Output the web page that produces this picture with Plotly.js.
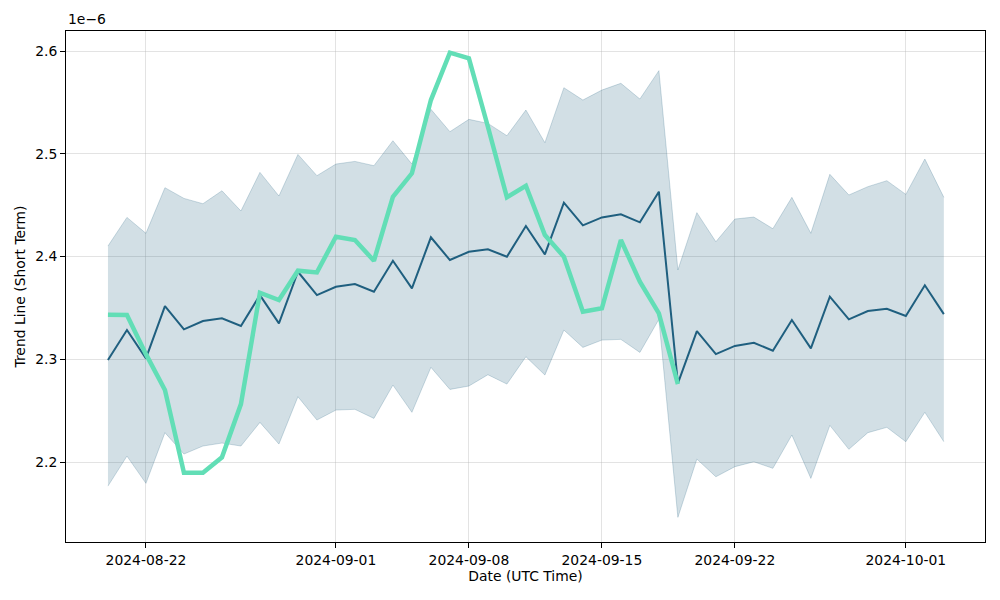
<!DOCTYPE html>
<html>
<head>
<meta charset="utf-8">
<script src="https://cdn.plot.ly/plotly-3.0.1.min.js"></script>
<style>
  html, body { margin: 0; padding: 0; background: #fff; }
  #chart { width: 1000px; height: 600px; }
</style>
</head>
<body>
<div id="chart"></div>
<script>
// values are in units of 1e-6 (shown as offset text on the y axis)
const startDate = "2024-08-20";
const meanLine = [
  2.2993, 2.3285, 2.3009, 2.3518, 2.3291, 2.3372, 2.3399, 2.3324, 2.3625, 2.3350,
  2.3852, 2.3625, 2.3706, 2.3732, 2.3658, 2.3959, 2.3690, 2.4187, 2.3966, 2.4047,
  2.4070, 2.3998, 2.4297, 2.4021, 2.4524, 2.4303, 2.4381, 2.4411, 2.4333, 2.4631,
  2.2766, 2.3275, 2.3051, 2.3130, 2.3161, 2.3083, 2.3382, 2.3106, 2.3609, 2.3389,
  2.3470, 2.3492, 2.3421, 2.3720, 2.3440
];
const upperBand = [
  2.4102, 2.4381, 2.4226, 2.4670, 2.4566, 2.4514, 2.4640, 2.4443, 2.4819, 2.4589,
  2.4994, 2.4787, 2.4900, 2.4926, 2.4884, 2.5127, 2.4900, 2.5433, 2.5215, 2.5335,
  2.5296, 2.5176, 2.5426, 2.5108, 2.5643, 2.5523, 2.5620, 2.5686, 2.5533, 2.5809,
  2.3869, 2.4427, 2.4144, 2.4365, 2.4384, 2.4271, 2.4576, 2.4226, 2.4800, 2.4599,
  2.4680, 2.4738, 2.4605, 2.4949, 2.4576
];
const lowerBand = [
  2.1766, 2.2058, 2.1793, 2.2286, 2.2078, 2.2156, 2.2185, 2.2156, 2.2386, 2.2175,
  2.2636, 2.2409, 2.2506, 2.2513, 2.2425, 2.2749, 2.2484, 2.2922, 2.2707, 2.2740,
  2.2850, 2.2759, 2.3025, 2.2847, 2.3285, 2.3116, 2.3187, 2.3194, 2.3067, 2.3389,
  2.1462, 2.2029, 2.1857, 2.1955, 2.2003, 2.1939, 2.2263, 2.1841, 2.2357, 2.2124,
  2.2286, 2.2338, 2.2198, 2.2484, 2.2198
];
const trendLine = [
  2.3434, 2.3431, 2.3050, 2.2701, 2.1896, 2.1896, 2.2046, 2.2564, 2.3648, 2.3577,
  2.3862, 2.3846, 2.4193, 2.4161, 2.3959, 2.4582, 2.4810, 2.5523, 2.5984, 2.5929,
  2.5263, 2.4576, 2.4689, 2.4209, 2.3998, 2.3463, 2.3496, 2.4161, 2.3755, 2.3447,
  2.2759
];
const xTicks = ["2024-08-22", "2024-09-01", "2024-09-08", "2024-09-15", "2024-09-22", "2024-10-01"];
const yTicks = [2.2, 2.3, 2.4, 2.5, 2.6];

function dayList(start, n) {
  const out = [];
  const t0 = Date.parse(start + "T00:00:00Z");
  for (let i = 0; i < n; i++) {
    out.push(new Date(t0 + i * 86400000).toISOString().slice(0, 10));
  }
  return out;
}

const dates = dayList(startDate, meanLine.length);
const trendDates = dates.slice(0, trendLine.length);

const FONT = { family: "DejaVu Sans, sans-serif", size: 13.9, color: "#000" };
const BAND = "rgba(31,95,127,0.2)";

const traces = [
  { x: dates, y: lowerBand, mode: "lines", line: { color: "rgba(31,95,127,0.22)", width: 1 },
    hoverinfo: "skip", showlegend: false },
  { x: dates, y: upperBand, mode: "lines", fill: "tonexty", fillcolor: BAND,
    line: { color: "rgba(31,95,127,0.22)", width: 1 }, hoverinfo: "skip", showlegend: false },
  { x: dates, y: meanLine, mode: "lines", line: { color: "#1f5f7f", width: 2 }, showlegend: false },
  { x: trendDates, y: trendLine, mode: "lines", line: { color: "#62deb6", width: 4.5 }, showlegend: false },
];

const layout = {
  width: 1000,
  height: 600,
  paper_bgcolor: "#fff",
  plot_bgcolor: "#fff",
  font: FONT,
  margin: { l: 66, r: 15, t: 31, b: 58 },
  xaxis: {
    type: "date",
    range: ["2024-08-17T19:00:00", "2024-10-05T04:00:00"],
    tickvals: xTicks,
    ticktext: xTicks,
    ticks: "outside", ticklen: 5, tickcolor: "#000",
    showgrid: true, gridcolor: "rgba(176,176,176,0.35)", gridwidth: 1,
    showline: true, linecolor: "#000", linewidth: 1, mirror: true,
    zeroline: false,
    title: { text: "Date (UTC Time)", font: FONT, standoff: 4 },
  },
  yaxis: {
    range: [2.1222, 2.6195],
    tickvals: yTicks,
    ticktext: yTicks.map((v) => v.toFixed(1)),
    ticks: "outside", ticklen: 5, tickcolor: "#000",
    showgrid: true, gridcolor: "rgba(176,176,176,0.35)", gridwidth: 1,
    showline: true, linecolor: "#000", linewidth: 1, mirror: true,
    zeroline: false,
    title: { text: "Trend Line (Short Term)", font: FONT, standoff: 6 },
  },
  annotations: [
    { text: "1e\u22126", xref: "paper", yref: "paper", x: 0, y: 1, xanchor: "left",
      yanchor: "bottom", yshift: 2, showarrow: false, font: FONT },
  ],
};

Plotly.newPlot("chart", traces, layout, { displayModeBar: false, staticPlot: true });
</script>
</body>
</html>
